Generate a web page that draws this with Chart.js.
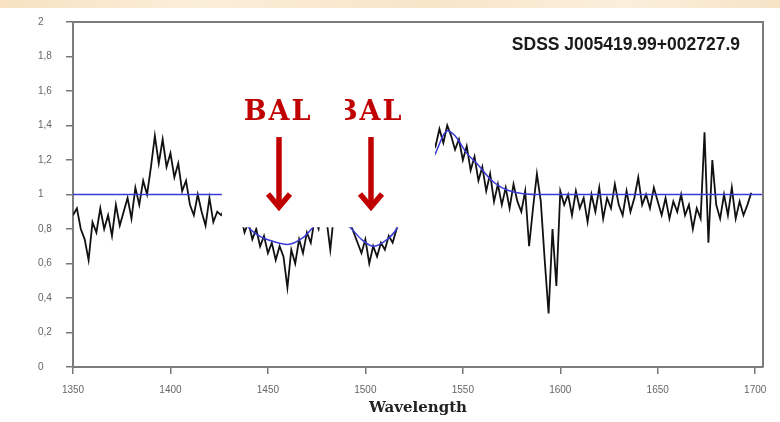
<!DOCTYPE html>
<html>
<head>
<meta charset="utf-8">
<script src="https://cdn.jsdelivr.net/npm/chart.js@4.4.0/dist/chart.umd.min.js"></script>
<style>
  html, body { margin: 0; padding: 0; background: #fff; }
  #wrap { position: relative; width: 780px; height: 422px; overflow: hidden; }
  #band { position: absolute; left: 0; top: 0; width: 780px; height: 8px;
          background: linear-gradient(90deg, #f6e2c2, #fbeed9 25%, #f7e5c8 55%, #fbefdc 80%, #f6e3c6); }
  canvas { position: absolute; left: 0; top: 0; }
</style>
</head>
<body>
<div id="wrap">
  <div id="band"></div>
  <canvas id="chart" width="780" height="422"></canvas>
</div>
<script>
// Rest-frame wavelength grid (Angstrom) of the spectrum
const wavelength = [
  1350, 1352, 1354, 1356, 1358, 1360, 1362, 1364, 1366, 1368,
  1370, 1372, 1374, 1376, 1378, 1380, 1382, 1384, 1386, 1388,
  1390, 1392, 1394, 1396, 1398, 1400, 1402, 1404, 1406, 1408,
  1410, 1412, 1414, 1416, 1418, 1420, 1422, 1424, 1426, 1428,
  1430, 1432, 1434, 1436, 1438, 1440, 1442, 1444, 1446, 1448,
  1450, 1452, 1454, 1456, 1458, 1460, 1462, 1464, 1466, 1468,
  1470, 1472, 1474, 1476, 1478, 1480, 1482, 1484, 1486, 1488,
  1490, 1492, 1494, 1496, 1498, 1500, 1502, 1504, 1506, 1508,
  1510, 1512, 1514, 1516, 1518, 1520, 1522, 1524, 1526, 1528,
  1530, 1532, 1534, 1536, 1538, 1540, 1542, 1544, 1546, 1548,
  1550, 1552, 1554, 1556, 1558, 1560, 1562, 1564, 1566, 1568,
  1570, 1572, 1574, 1576, 1578, 1580, 1582, 1584, 1586, 1588,
  1590, 1592, 1594, 1596, 1598, 1600, 1602, 1604, 1606, 1608,
  1610, 1612, 1614, 1616, 1618, 1620, 1622, 1624, 1626, 1628,
  1630, 1632, 1634, 1636, 1638, 1640, 1642, 1644, 1646, 1648,
  1650, 1652, 1654, 1656, 1658, 1660, 1662, 1664, 1666, 1668,
  1670, 1672, 1674, 1676, 1678, 1680, 1682, 1684, 1686, 1688,
  1690, 1692, 1694, 1696, 1698
];

// Normalised flux
const flux = [
  0.88, 0.92, 0.80, 0.74, 0.62, 0.84, 0.78, 0.92, 0.80, 0.88,
  0.76, 0.94, 0.82, 0.90, 0.98, 0.86, 1.04, 0.94, 1.08, 1.00,
  1.16, 1.34, 1.18, 1.32, 1.16, 1.24, 1.10, 1.18, 1.02, 1.08,
  0.94, 0.88, 1.00, 0.90, 0.82, 0.98, 0.84, 0.90, 0.88, 0.92,
  0.86, 0.90, 0.84, 0.88, 0.78, 0.84, 0.74, 0.80, 0.70, 0.76,
  0.66, 0.72, 0.62, 0.70, 0.64, 0.46, 0.68, 0.60, 0.74, 0.66,
  0.78, 0.72, 0.86, 0.80, 0.92, 0.86, 0.68, 0.90, 0.96, 0.88,
  0.94, 0.84, 0.78, 0.72, 0.66, 0.74, 0.60, 0.70, 0.64, 0.72,
  0.68, 0.76, 0.72, 0.80, 0.90, 0.96, 1.04, 1.10, 1.18, 1.22,
  1.28, 1.26, 1.32, 1.28, 1.38, 1.30, 1.40, 1.34, 1.26, 1.32,
  1.20, 1.28, 1.14, 1.22, 1.08, 1.16, 1.02, 1.12, 0.96, 1.06,
  0.94, 1.04, 0.92, 1.06, 0.96, 0.90, 1.02, 0.70, 0.92, 1.12,
  0.96, 0.62, 0.31, 0.80, 0.47, 1.02, 0.94, 1.00, 0.88, 1.02,
  0.92, 0.98, 0.84, 1.00, 0.90, 1.04, 0.86, 0.98, 0.92, 1.06,
  0.94, 0.88, 1.02, 0.90, 0.98, 1.10, 0.94, 1.00, 0.92, 1.04,
  0.96, 0.88, 0.98, 0.86, 0.96, 0.90, 1.00, 0.88, 0.94, 0.80,
  0.92, 0.86, 1.36, 0.72, 1.20, 0.94, 0.86, 1.00, 0.88, 1.04,
  0.86, 0.96, 0.88, 0.94, 1.01
];

// Fitted continuum + absorption model
const contWave = [1350, 1420, 1427, 1436, 1444, 1452, 1460, 1468, 1476, 1484,
                  1492, 1498, 1504, 1510, 1516, 1522, 1530, 1536, 1542, 1546,
                  1552, 1558, 1564, 1570, 1578, 1588, 1704];
const contFlux = [1.00, 1.00, 1.00, 0.86, 0.77, 0.73, 0.71, 0.75, 0.84, 0.86,
                  0.81, 0.74, 0.70, 0.73, 0.80, 0.96, 1.10, 1.24, 1.37, 1.34,
                  1.24, 1.17, 1.09, 1.04, 1.01, 1.00, 1.00];

const xTicks = [1350, 1400, 1450, 1500, 1550, 1600, 1650, 1700];

const objectName = 'SDSS J005419.99+002727.9';
const balLabel = 'BAL';
// Absorption troughs marked with arrows (wavelength of each arrow)
const balWaves = [1455.7, 1502.9];

// Panel that hides the upper part of the trough region
const panel = { from: 1426.4, to: 1535.7, top: 1.62, bottom: 0.81 };
const maskLeftWave = 1489.5;   // second label is cut by the first label's backing
const arrowTop = 1.333, arrowTip = 0.904, labelBase = 1.432;

const annotate = {
  id: 'annotate',
  afterDatasetsDraw(chart) {
    const { ctx, scales: { x, y }, chartArea: a } = chart;
    ctx.save();
    // frame along top and right
    ctx.strokeStyle = '#7c7c7c';
    ctx.lineWidth = 2;
    ctx.beginPath();
    ctx.moveTo(a.left, a.top);
    ctx.lineTo(a.right, a.top);
    ctx.lineTo(a.right, a.bottom);
    ctx.stroke();

    // white panel
    const px0 = x.getPixelForValue(panel.from), px1 = x.getPixelForValue(panel.to);
    const py0 = y.getPixelForValue(panel.top), py1 = y.getPixelForValue(panel.bottom);
    ctx.fillStyle = '#ffffff';
    ctx.fillRect(px0, py0, px1 - px0, py1 - py0);

    // arrows
    ctx.strokeStyle = '#c00000';
    ctx.lineWidth = 5.5;
    ctx.lineCap = 'butt';
    ctx.lineJoin = 'miter';
    const yTop = y.getPixelForValue(arrowTop), yTip = y.getPixelForValue(arrowTip);
    balWaves.forEach(w => {
      const ax = Math.round(x.getPixelForValue(w));
      ctx.beginPath();
      ctx.moveTo(ax, yTop);
      ctx.lineTo(ax, yTip - 3);
      ctx.stroke();
      ctx.beginPath();
      ctx.moveTo(ax - 11, yTip - 17);
      ctx.lineTo(ax, yTip - 4);
      ctx.lineTo(ax + 11, yTip - 17);
      ctx.stroke();
    });

    // labels
    ctx.fillStyle = '#c00000';
    ctx.font = 'bold 27px "DejaVu Serif"';
    if ('letterSpacing' in ctx) ctx.letterSpacing = '2px';
    ctx.textAlign = 'center';
    ctx.textBaseline = 'alphabetic';
    const ly = y.getPixelForValue(labelBase);
    ctx.fillText(balLabel, x.getPixelForValue(balWaves[0]) - 1, ly);
    ctx.save();
    ctx.beginPath();
    ctx.rect(x.getPixelForValue(maskLeftWave), 0, chart.width, chart.height);
    ctx.clip();
    ctx.fillText(balLabel, x.getPixelForValue(balWaves[1]) - 2, ly);
    ctx.restore();
    if ('letterSpacing' in ctx) ctx.letterSpacing = '0px';

    // object name
    ctx.fillStyle = '#1a1a1a';
    ctx.font = 'bold 17.5px "Liberation Sans", Arial, sans-serif';
    ctx.textAlign = 'right';
    ctx.fillText(objectName, 740, 50);
    ctx.restore();
  }
};

const fmt = v => String(Math.round(v * 10) / 10).replace('.', ',');

new Chart(document.getElementById('chart'), {
  type: 'line',
  data: {
    datasets: [
      {
        label: 'Flux',
        data: wavelength.map((w, i) => ({ x: w, y: flux[i] })),
        borderColor: '#111111',
        borderWidth: 1.8,
        pointRadius: 0,
        tension: 0,
        order: 2
      },
      {
        label: 'Continuum',
        data: contWave.map((w, i) => ({ x: w, y: contFlux[i] })),
        borderColor: '#3a3ad8',
        borderWidth: 1.5,
        pointRadius: 0,
        cubicInterpolationMode: 'monotone',
        order: 1
      }
    ]
  },
  options: {
    responsive: false,
    animation: false,
    devicePixelRatio: 1,
    layout: { padding: { left: 38, right: 17, top: 22, bottom: 0 } },
    plugins: { legend: { display: false }, tooltip: { enabled: false } },
    scales: {
      x: {
        type: 'linear',
        min: 1350,
        max: 1704,
        afterFit(s) { s.height = 55; },
        afterBuildTicks(s) { s.ticks = xTicks.map(v => ({ value: v })); },
        ticks: {
          color: '#666',
          font: { family: '"Liberation Sans", Arial, sans-serif', size: 10 },
          padding: 10,
          maxRotation: 0,
          autoSkip: false,
          callback: v => String(v)
        },
        grid: { drawOnChartArea: false, drawTicks: true, tickLength: 7, color: '#777', lineWidth: 1.5 },
        border: { display: true, color: '#7c7c7c', width: 2 },
        title: {
          display: true,
          text: 'Wavelength',
          color: '#222',
          font: { family: '"DejaVu Serif", serif', weight: 'bold', size: 15 },
          padding: { top: 0, bottom: 5 }
        }
      },
      y: {
        min: 0,
        max: 2,
        afterFit(s) { s.width = 35; },
        ticks: {
          stepSize: 0.2,
          crossAlign: 'far',
          color: '#666',
          font: { family: '"Liberation Sans", Arial, sans-serif', size: 10 },
          padding: 12,
          callback: fmt
        },
        grid: { drawOnChartArea: false, drawTicks: true, tickLength: 7, color: '#777', lineWidth: 1.5 },
        border: { display: true, color: '#7c7c7c', width: 2 }
      }
    }
  },
  plugins: [annotate]
});
</script>
</body>
</html>
